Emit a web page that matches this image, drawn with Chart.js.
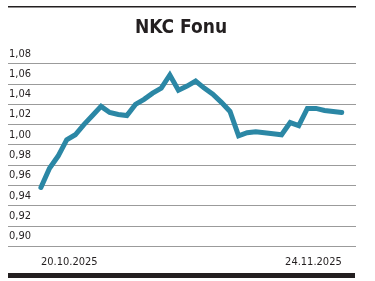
<!DOCTYPE html>
<html>
<head>
<meta charset="utf-8">
<script src="https://cdn.jsdelivr.net/npm/chart.js@4/dist/chart.umd.min.js"></script>
<style>
  html, body { margin: 0; padding: 0; background: #fff; }
  #wrap { width: 375px; height: 281px; position: relative; }
</style>
</head>
<body>
<div id="wrap"><canvas id="fundChart"></canvas></div>
<script>
const titleText = "NKC Fonu";

// daily dates 20.10.2025 - 24.11.2025
const dates = [
  "20.10.2025", "21.10.2025", "22.10.2025", "23.10.2025", "24.10.2025", "25.10.2025",
  "26.10.2025", "27.10.2025", "28.10.2025", "29.10.2025", "30.10.2025", "31.10.2025",
  "01.11.2025", "02.11.2025", "03.11.2025", "04.11.2025", "05.11.2025", "06.11.2025",
  "07.11.2025", "08.11.2025", "09.11.2025", "10.11.2025", "11.11.2025", "12.11.2025",
  "13.11.2025", "14.11.2025", "15.11.2025", "16.11.2025", "17.11.2025", "18.11.2025",
  "19.11.2025", "20.11.2025", "21.11.2025", "22.11.2025", "23.11.2025", "24.11.2025"
];

const prices = [
  0.958, 0.977, 0.989, 1.005, 1.010, 1.020,
  1.029, 1.038, 1.032, 1.030, 1.029, 1.040,
  1.045, 1.051, 1.056, 1.069, 1.054, 1.058,
  1.063, 1.056, 1.050, 1.042, 1.033, 1.009,
  1.012, 1.013, 1.012, 1.011, 1.010, 1.022,
  1.019, 1.036, 1.036, 1.034, 1.033, 1.032
];

const yMin = 0.90;
const yMax = 1.08;
const yStep = 0.02;

const condFont = "'DejaVu Sans Condensed', 'Liberation Sans Narrow', sans-serif";
const inkColor = '#231f20';

// top hairline and bottom bar of the card
const framePlugin = {
  id: 'frame',
  afterDraw(chart) {
    const { ctx, chartArea } = chart;
    ctx.save();
    ctx.fillStyle = inkColor;
    ctx.fillRect(chartArea.left, 6, chartArea.right - chartArea.left, 1.5);
    ctx.fillRect(chartArea.left, 273, chartArea.right - chartArea.left - 1, 5);
    ctx.restore();
  }
};

const ctx = document.getElementById('fundChart');
const fundChart = new Chart(ctx, {
  type: 'line',
  data: {
    datasets: [{
      label: titleText,
      data: prices.map((v, i) => ({ x: i, y: v })),
      borderColor: '#2b87a5',
      borderWidth: 5,
      borderCapStyle: 'round',
      borderJoinStyle: 'miter',
      pointRadius: 0,
      tension: 0,
      fill: false
    }]
  },
  options: {
    responsive: true,
    maintainAspectRatio: false,
    animation: false,
    layout: { padding: { left: 6, right: 19, top: 0, bottom: 3.5 } },
    scales: {
      x: {
        type: 'linear',
        min: -3.83,
        max: dates.length - 1 + 1.66,
        grid: { display: false, drawTicks: false },
        border: { display: false },
        afterBuildTicks: (scale) => {
          scale.ticks = [{ value: 0 }, { value: dates.length - 1 }];
        },
        ticks: {
          autoSkip: false,
          maxRotation: 0,
          align: 'inner',
          padding: 9,
          color: inkColor,
          font: { family: condFont, size: 11 },
          callback: (value) => dates[value]
        }
      },
      y: {
        min: yMin,
        max: yMax,
        grid: { color: '#9b9b9b', lineWidth: 1, drawTicks: false },
        border: { display: false },
        ticks: {
          stepSize: yStep,
          mirror: true,
          padding: 1,
          labelOffset: -10,
          color: inkColor,
          font: { family: condFont, size: 11 },
          callback: (value) => value.toFixed(2).replace('.', ',')
        }
      }
    },
    plugins: {
      legend: { display: false },
      tooltip: { enabled: false },
      title: {
        display: true,
        text: titleText,
        color: inkColor,
        font: { family: condFont, size: 19, weight: 'bold' },
        padding: { top: 17, bottom: 24 }
      }
    }
  },
  plugins: [framePlugin]
});
</script>
</body>
</html>
